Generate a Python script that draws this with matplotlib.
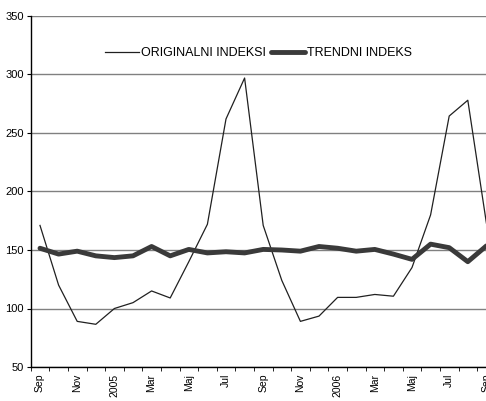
import matplotlib
matplotlib.use("Agg")
import matplotlib.pyplot as plt
import numpy as np

plt.rcParams['font.family'] = ['Liberation Sans', 'DejaVu Sans']

months = ["Sep", "Okt", "Nov", "Dec", "2005", "Feb", "Mar", "Apr", "Maj", "Jun", "Jul", "Avg",
          "Sep", "Okt", "Nov", "Dec", "2006", "Feb", "Mar", "Apr", "Maj", "Jun", "Jul", "Avg", "Sep"]
original = [171, 120, 89, 86.5, 100, 105, 115, 109, 140, 172, 262, 297,
            171, 124, 89, 93.5, 109.5, 109.5, 112, 110.5, 135, 180, 264.5, 278, 173]
trend = [151.5, 146.5, 149, 145, 143.5, 145, 153, 145, 150.5, 147.5, 148.5, 147.5,
         150.5, 150, 149, 153, 151.5, 149, 150.5, 146.5, 142, 155, 152, 140, 153.5]
yticks = [50, 100, 150, 200, 250, 300, 350]

fig = plt.figure(figsize=(4.86, 4.01), dpi=100)
ax = fig.add_axes([30.7 / 486, 34 / 401, 465 / 486, 351 / 401])

x = np.arange(len(months))
l1, = ax.plot(x, original, color='#202020', lw=0.9, label='ORIGINALNI INDEKSI')
l2, = ax.plot(x, trend, color='#3a3a3a', lw=3.5, label='TRENDNI INDEKS', solid_capstyle='round')

ax.set_xlim(-0.5, len(months) - 0.5)
ax.set_ylim(50, 350)
ax.set_yticks(yticks)
ax.set_yticklabels([str(v) for v in yticks], fontsize=8)
ax.yaxis.grid(True, color='#808080', lw=1)
ax.set_axisbelow(True)

ax.set_xticks(x[::2])
ax.set_xticklabels(months[::2], rotation=90, fontsize=7.5, va='top')
ax.set_xticks(np.arange(-0.5, len(months), 1), minor=True)
ax.tick_params(axis='x', which='major', length=0, pad=5)
ax.tick_params(axis='x', which='minor', length=3, direction='out', color='black')
ax.tick_params(axis='y', length=3, direction='out', pad=2)

for s in ['top', 'right']:
    ax.spines[s].set_visible(False)
for s in ['left', 'bottom']:
    ax.spines[s].set_color('black')
    ax.spines[s].set_linewidth(1)

fig.legend(handles=[l1, l2], loc='center', bbox_to_anchor=(258.5 / 486, 347.7 / 401),
           ncol=2, frameon=False, fontsize=9, handlelength=2.7, handletextpad=0.15,
           columnspacing=0.4, borderpad=0)

fig.savefig('out.png', dpi=100)
